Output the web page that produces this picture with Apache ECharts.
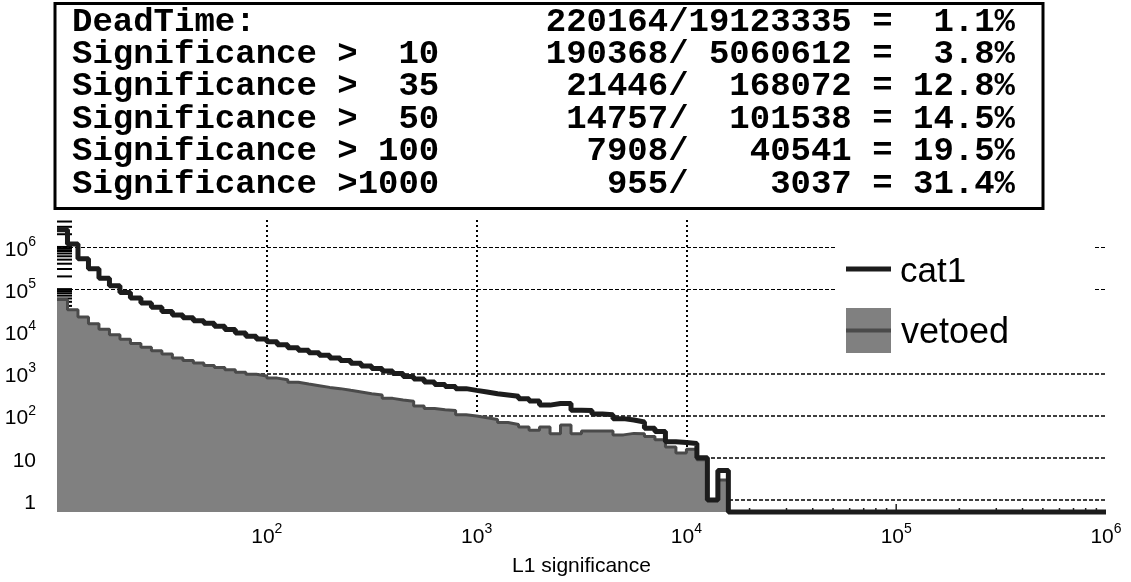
<!DOCTYPE html>
<html>
<head>
<meta charset="utf-8">
<title>L1 significance</title>
<script src="https://cdn.jsdelivr.net/npm/echarts@6/dist/echarts.min.js"></script>
<style>
  html, body { margin: 0; padding: 0; background: #fff; }
  #chart { width: 1131px; height: 582px; }
</style>
</head>
<body>
<div id="chart"></div>
<script>
// histogram binning: log bins, 20 per decade, first edge at 10, axis runs to 1e6
const binStart = 10;
const binsPerDecade = 20;
const rangeEnd = 1e6;

// counts per bin (bins after the last one are empty)
const cat1Counts = [
  2570000, 1175000, 525000, 302000, 182000, 120000, 83200, 61700, 46800, 37200,
  29500, 24500, 20900, 17800, 15500, 13200, 11000, 9120, 7590, 6610,
  5620, 4790, 4070, 3550, 3090, 2690, 2340, 2040, 1740, 1510,
  1320, 1150, 1000, 851, 741, 631, 550, 490, 437, 398,
  363, 331, 309, 288, 251, 224, 178, 195, 195, 135,
  132, 110, 105, 85, 79, 71, 50, 42, 24, 23,
  22, 10, 1, 5
];
const vetoedCounts = [
  57000, 32400, 21900, 15100, 11200, 8320, 6460, 5130, 4170, 3470,
  2880, 2340, 2040, 1780, 1550, 1380, 1230, 1070, 955, 871,
  776, 708, 617, 562, 513, 468, 437, 398, 363, 331,
  309, 257, 234, 219, 170, 148, 138, 132, 105, 98,
  89, 81, 69, 62, 54, 45, 54, 37, 60, 37,
  43, 43, 43, 35, 38, 37, 32, 27, 18, 13,
  16, 9, 1, 3
];

const statLabels = [
  'DeadTime:',
  'Significance >  10',
  'Significance >  35',
  'Significance >  50',
  'Significance > 100',
  'Significance >1000'
];
const statValues = [
  '220164/19123335 =  1.1%',
  '190368/ 5060612 =  3.8%',
  ' 21446/  168072 = 12.8%',
  ' 14757/  101538 = 14.5%',
  '  7908/   40541 = 19.5%',
  '   955/    3037 = 31.4%'
];

const legendNames = ['cat1', 'vetoed'];
const gridX = [100, 1000, 10000];
const gridY = [1, 10, 100, 1000, 100000, 1000000];

const X_MIN = 10;
const X_MAX = 1e6;
const Y_MIN = 0.52;
const Y_MAX = 4.35e6;

function edge(k) {
  return binStart * Math.pow(10, k / binsPerDecade);
}

function stepPoints(counts) {
  const pts = counts.map((c, k) => [edge(k), c > 0 ? c : Y_MIN]);
  pts.push([edge(counts.length), Y_MIN]);
  pts.push([rangeEnd, Y_MIN]);
  return pts;
}

function minorTicks(lo, hi) {
  const out = [];
  for (let d = -1; d <= 7; d++) {
    for (let m = 1; m <= 9; m++) {
      const v = m * Math.pow(10, d);
      if (v > lo && v < hi) out.push({ v: v, major: m === 1 });
    }
  }
  return out;
}

function powLabel(v) {
  const e = Math.round(Math.log10(v));
  if (e === 0) return '{b|1}';
  if (e === 1) return '{b|10}';
  return '{b|10}{s|' + e + '}';
}

const labelRich = {
  b: { fontSize: 21, fontFamily: 'Liberation Sans', color: '#000', lineHeight: 30, verticalAlign: 'middle' },
  s: { fontSize: 14, fontFamily: 'Liberation Sans', color: '#000', verticalAlign: 'top' }
};

const chart = echarts.init(document.getElementById('chart'), null, { renderer: 'canvas' });

const yTicks = minorTicks(Y_MIN, Y_MAX);
const xTicks = minorTicks(X_MIN, X_MAX);

const gridLines = [
  ...gridX.map(v => ({ xAxis: v, lineStyle: { color: '#000', width: 2, type: [2, 3] } })),
  ...gridY.map(v => ({ yAxis: v, lineStyle: { color: '#000', width: v >= 1e5 ? 1.2 : 1.6, type: [4, 2] } }))
];

const rowY0 = 22;
const rowStep = 32.4;

chart.setOption({
  animation: false,
  textStyle: { fontFamily: 'Liberation Sans' },
  grid: { left: 57, right: 25, top: 220, bottom: 69 },
  xAxis: {
    type: 'log',
    min: X_MIN,
    max: X_MAX,
    name: 'L1 significance',
    nameLocation: 'middle',
    nameGap: 44,
    nameTextStyle: { fontSize: 21, color: '#000', fontFamily: 'Liberation Sans' },
    axisLine: { show: false },
    axisTick: { show: false },
    splitLine: { show: false },
    axisLabel: { margin: 10, formatter: powLabel, rich: labelRich, showMinLabel: false }
  },
  yAxis: {
    type: 'log',
    min: Y_MIN,
    max: Y_MAX,
    axisLine: { show: false },
    axisTick: { show: false },
    splitLine: { show: false },
    axisLabel: {
      margin: 21, padding: [6, 0, 0, 0], formatter: powLabel, rich: labelRich,
      showMinLabel: false, showMaxLabel: false
    }
  },
  series: [
    {
      name: 'yTicks',
      type: 'custom',
      z: 1,
      silent: true,
      data: yTicks.map(t => [X_MIN, t.v]),
      renderItem: function (params, api) {
        const p = api.coord([X_MIN, api.value(1)]);
        return {
          type: 'line',
          shape: { x1: p[0], y1: p[1], x2: p[0] + 15, y2: p[1] },
          style: { stroke: '#000', lineWidth: 2 }
        };
      }
    },
    {
      name: 'xTicks',
      type: 'custom',
      z: 1,
      silent: true,
      data: xTicks.map(t => [t.v, Y_MIN, t.major ? 1 : 0]),
      renderItem: function (params, api) {
        const p = api.coord([api.value(0), Y_MIN]);
        const len = api.value(2) ? 8 : 4;
        return {
          type: 'line',
          shape: { x1: p[0], y1: p[1], x2: p[0], y2: p[1] - len },
          style: { stroke: '#222', lineWidth: 1.5 }
        };
      }
    },
    {
      name: legendNames[1],
      type: 'line',
      step: 'end',
      z: 2,
      clip: false,
      symbol: 'none',
      data: stepPoints(vetoedCounts),
      lineStyle: { color: '#4a4a4a', width: 3 },
      areaStyle: { color: '#808080', opacity: 1, origin: 'start' },
      markLine: {
        silent: true,
        z: 1,
        symbol: ['none', 'none'],
        label: { show: false },
        emphasis: { disabled: true },
        data: gridLines
      }
    },
    {
      name: legendNames[0],
      type: 'line',
      step: 'end',
      z: 3,
      clip: false,
      symbol: 'none',
      data: stepPoints(cat1Counts),
      lineStyle: { color: '#1c1c1c', width: 5 }
    }
  ],
  graphic: [
    {
      type: 'rect',
      z: 100,
      shape: { x: 55, y: 3.5, width: 988, height: 205 },
      style: { fill: '#fff', stroke: '#000', lineWidth: 3 }
    },
    ...statLabels.map((t, i) => ({
      type: 'text',
      z: 101,
      x: 72,
      y: rowY0 + i * rowStep,
      style: {
        text: t, fill: '#000', font: 'bold 34px "Liberation Mono", monospace',
        align: 'left', verticalAlign: 'middle', textAlign: 'left', textVerticalAlign: 'middle'
      }
    })),
    ...statValues.map((t, i) => ({
      type: 'text',
      z: 101,
      x: 1015,
      y: rowY0 + i * rowStep,
      style: {
        text: t, fill: '#000', font: 'bold 34px "Liberation Mono", monospace',
        align: 'right', verticalAlign: 'middle', textAlign: 'right', textVerticalAlign: 'middle'
      }
    })),
    // legend, drawn inside the plot
    {
      type: 'rect',
      z: 100,
      shape: { x: 837, y: 237, width: 256, height: 119 },
      style: { fill: '#fff' }
    },
    {
      type: 'line',
      z: 101,
      shape: { x1: 846, y1: 269, x2: 891, y2: 269 },
      style: { stroke: '#1c1c1c', lineWidth: 5 }
    },
    {
      type: 'text',
      z: 101,
      x: 900,
      y: 272,
      style: {
        text: legendNames[0], fill: '#000', font: '35px "Liberation Sans"',
        align: 'left', verticalAlign: 'middle', textAlign: 'left', textVerticalAlign: 'middle'
      }
    },
    {
      type: 'rect',
      z: 101,
      shape: { x: 846, y: 308, width: 45, height: 45 },
      style: { fill: '#808080' }
    },
    {
      type: 'line',
      z: 102,
      shape: { x1: 846, y1: 330.5, x2: 891, y2: 330.5 },
      style: { stroke: '#4a4a4a', lineWidth: 4 }
    },
    {
      type: 'text',
      z: 101,
      x: 901,
      y: 333,
      style: {
        text: legendNames[1], fill: '#000', font: '36px "Liberation Sans"',
        align: 'left', verticalAlign: 'middle', textAlign: 'left', textVerticalAlign: 'middle'
      }
    }
  ]
});
</script>
</body>
</html>
